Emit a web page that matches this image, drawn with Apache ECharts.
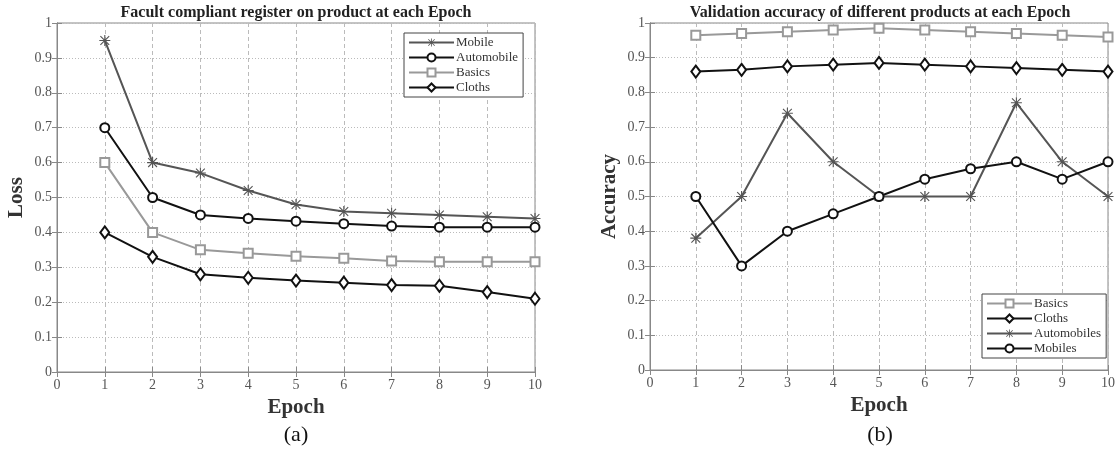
<!DOCTYPE html>
<html>
<head>
<meta charset="utf-8">
<script src="https://cdn.jsdelivr.net/npm/echarts@6/dist/echarts.min.js"></script>
<style>
  html, body { margin: 0; padding: 0; background: #fff; }
  #charts { width: 1118px; height: 450px; }
</style>
</head>
<body>
<div id="charts"></div>
<script>
const epochs = [1, 2, 3, 4, 5, 6, 7, 8, 9, 10]

// (a) loss
const lossMobile = [0.95, 0.60, 0.57, 0.52, 0.48, 0.46, 0.455, 0.45, 0.445, 0.44]
const lossAutomobile = [0.70, 0.50, 0.45, 0.44, 0.432, 0.425, 0.418, 0.415, 0.415, 0.415]
const lossBasics = [0.60, 0.40, 0.35, 0.34, 0.332, 0.326, 0.318, 0.316, 0.316, 0.316]
const lossCloths = [0.40, 0.33, 0.28, 0.27, 0.262, 0.256, 0.249, 0.247, 0.229, 0.21]

// (b) accuracy
const accBasics = [0.965, 0.97, 0.975, 0.98, 0.985, 0.98, 0.975, 0.97, 0.965, 0.96]
const accCloths = [0.86, 0.865, 0.875, 0.88, 0.885, 0.88, 0.875, 0.87, 0.865, 0.86]
const accAutomobiles = [0.38, 0.50, 0.74, 0.60, 0.50, 0.50, 0.50, 0.77, 0.60, 0.50]
const accMobiles = [0.50, 0.30, 0.40, 0.45, 0.50, 0.55, 0.58, 0.60, 0.55, 0.60]

const serif = '"Liberation Serif", "DejaVu Serif", serif'
const STAR = 'path://M9 0L11 0L11 20L9 20Z M0 9L20 9L20 11L0 11Z M2.7 1.3L18.7 17.3L17.3 18.7L1.3 2.7Z M17.3 1.3L18.7 2.7L2.7 18.7L1.3 17.3Z'
const DIAMOND = 'path://M10 0L20 10L10 20L0 10Z'

const pairs = v => v.map((y, i) => [epochs[i], y])

const mkSeries = (name, data, color, shape, idx) => {
    let hollow = shape !== STAR
    return {
        name: name,
        type: 'line',
        xAxisIndex: idx,
        yAxisIndex: idx,
        data: pairs(data),
        symbol: shape,
        symbolSize: shape === DIAMOND ? [9, 12] : (shape === STAR ? 11 : 9),
        lineStyle: { color: color, width: 2 },
        itemStyle: hollow
            ? { color: '#fff', borderColor: color, borderWidth: 2 }
            : { color: color, borderWidth: 0 },
        emphasis: { disabled: true },
        z: 3
    }
}

const bottomX = (grid) => ({
    type: 'value', gridIndex: grid, min: 0, max: 10, interval: 1,
    name: 'Epoch', nameLocation: 'middle', nameGap: 25,
    nameTextStyle: { fontFamily: serif, fontWeight: 'bold', fontSize: 21, color: '#333' },
    axisLine: { show: true, lineStyle: { color: '#888' } },
    axisTick: { show: true, inside: true, length: 5, lineStyle: { color: '#888' } },
    axisLabel: { fontFamily: serif, fontSize: 14, color: '#555', margin: 6 },
    splitLine: { show: true, lineStyle: { color: '#bbb', type: [4, 3] } }
})
const topX = (grid) => ({
    type: 'value', gridIndex: grid, min: 0, max: 10, interval: 1, position: 'top',
    axisLine: { show: true, lineStyle: { color: '#888' } },
    axisTick: { show: true, inside: true, length: 5, lineStyle: { color: '#888' } },
    axisLabel: { show: false }, splitLine: { show: false }
})
const leftY = (grid, name) => ({
    type: 'value', gridIndex: grid, min: 0, max: 1, interval: 0.1,
    name: name, nameLocation: 'middle', nameGap: 30,
    nameTextStyle: { fontFamily: serif, fontWeight: 'bold', fontSize: 21, color: '#333' },
    axisLine: { show: true, lineStyle: { color: '#888' } },
    axisTick: { show: true, inside: true, length: 5, lineStyle: { color: '#888' } },
    axisLabel: { fontFamily: serif, fontSize: 14, color: '#555', margin: 5 },
    splitLine: { show: true, lineStyle: { color: '#bbb', type: [1, 2] } }
})
const rightY = (grid) => ({
    type: 'value', gridIndex: grid, min: 0, max: 1, interval: 0.1, position: 'right',
    axisLine: { show: true, lineStyle: { color: '#888' } },
    axisTick: { show: true, inside: true, length: 5, lineStyle: { color: '#888' } },
    axisLabel: { show: false }, splitLine: { show: false }
})

const legendBase = {
    orient: 'vertical', selectedMode: false,
    itemWidth: 45, itemHeight: 10, itemGap: 2,
    backgroundColor: '#fff', borderColor: '#444', borderWidth: 1,
    padding: [3, 5, 3, 4],
    textStyle: { fontFamily: serif, fontSize: 13, color: '#333', padding: [0, 0, 0, -3] }
}

let chart = echarts.init(document.getElementById('charts'), null, { renderer: 'canvas' })
chart.setOption({
    animation: false,
    title: [
        { text: 'Facult compliant register on product at each Epoch', left: 296, top: 5, padding: 0, textAlign: 'center',
          textStyle: { fontFamily: serif, fontWeight: 'bold', fontSize: 16, color: '#222' } },
        { text: 'Validation accuracy of different products at each Epoch', left: 880, top: 5, padding: 0, textAlign: 'center',
          textStyle: { fontFamily: serif, fontWeight: 'bold', fontSize: 16, color: '#222' } },
        { text: '(a)', left: 296, top: 424, padding: 0, textAlign: 'center',
          textStyle: { fontFamily: serif, fontWeight: 'normal', fontSize: 22, color: '#111' } },
        { text: '(b)', left: 880, top: 424, padding: 0, textAlign: 'center',
          textStyle: { fontFamily: serif, fontWeight: 'normal', fontSize: 22, color: '#111' } }
    ],
    grid: [
        { left: 57, right: 583, top: 23, bottom: 78, show: true, borderColor: '#888', borderWidth: 1 },
        { left: 650, right: 9, top: 23, bottom: 80, show: true, borderColor: '#888', borderWidth: 1 }
    ],
    legend: [
        Object.assign({}, legendBase, { left: 404, top: 33, data: ['Mobile', 'Automobile', 'Basics', 'Cloths'] }),
        Object.assign({}, legendBase, { left: 982, top: 294, data: ['Basics', 'Cloths', 'Automobiles', 'Mobiles'] })
    ],
    xAxis: [bottomX(0), topX(0), bottomX(1), topX(1)],
    yAxis: [leftY(0, 'Loss'), rightY(0), leftY(1, 'Accuracy'), rightY(1)],
    series: [
        mkSeries('Mobile', lossMobile, '#555', STAR, 0),
        mkSeries('Automobile', lossAutomobile, '#111', 'circle', 0),
        mkSeries('Basics', lossBasics, '#999', 'rect', 0),
        mkSeries('Cloths', lossCloths, '#111', DIAMOND, 0),
        mkSeries('Basics', accBasics, '#999', 'rect', 2),
        mkSeries('Cloths', accCloths, '#111', DIAMOND, 2),
        mkSeries('Automobiles', accAutomobiles, '#555', STAR, 2),
        mkSeries('Mobiles', accMobiles, '#111', 'circle', 2)
    ]
})
window.onresize = function () {
    chart.resize();
};
</script>
</body>
</html>
